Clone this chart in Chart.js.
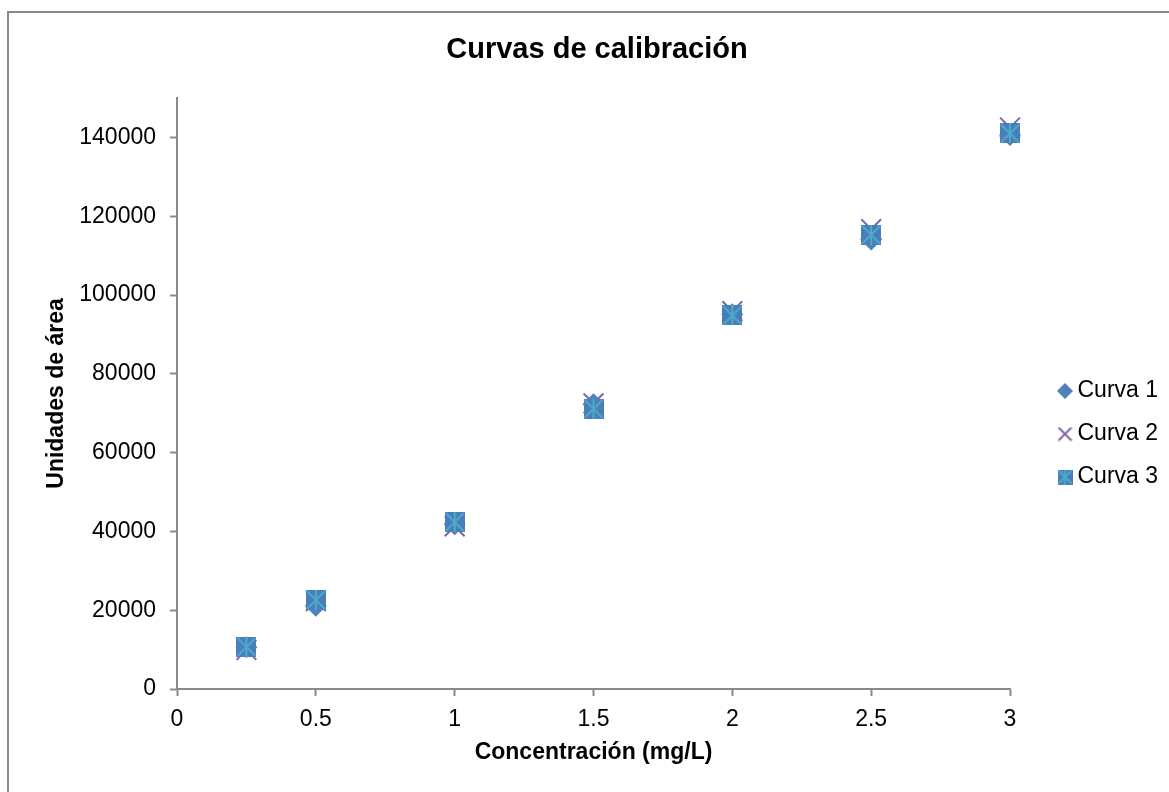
<!DOCTYPE html>
<html>
<head>
<meta charset="utf-8">
<script src="https://cdn.jsdelivr.net/npm/chart.js@4/dist/chart.umd.min.js"></script>
<style>
  html, body { margin: 0; padding: 0; background: #ffffff; overflow: hidden; }
  #wrap { position: relative; width: 1169px; height: 792px; }
  #frame { position: absolute; left: 7px; top: 11px; width: 1300px; height: 900px;
           border-left: 2px solid #8a8a8a; border-top: 2px solid #8a8a8a; pointer-events: none; }
  canvas { position: absolute; left: 0; top: 0; }
</style>
</head>
<body>
<div id="wrap">
  <canvas id="c" width="1169" height="792"></canvas>
  <div id="frame"></div>
</div>
<script>
// ---- data ----
const concentraciones = [0.25, 0.5, 1, 1.5, 2, 2.5, 3];
const curva1 = [10600, 21100, 41800, 72300, 95100, 114100, 140600];
const curva2 = [9900, 22300, 41300, 72500, 95900, 116700, 142500];
const curva3 = [10700, 22600, 42400, 71100, 94800, 115300, 141000];
const seriesNames = ['Curva 1', 'Curva 2', 'Curva 3'];
const xTickValues = [0, 0.5, 1, 1.5, 2, 2.5, 3];
const yTickValues = [0, 20000, 40000, 60000, 80000, 100000, 120000, 140000];
const chartTitle = 'Curvas de calibración';
const xTitle = 'Concentración (mg/L)';
const yTitle = 'Unidades de área';

const FONT = "'Liberation Sans', Arial, Helvetica, sans-serif";
const AXIS_GRAY = '#8a8a8a';
const C1 = '#4F81BD', C2 = '#8064A2', C3F = '#4A7EBB', C3L = '#4BACC6';

function starSquare(size) {
  const c = document.createElement('canvas');
  c.width = size; c.height = size;
  const g = c.getContext('2d');
  g.fillStyle = C3F; g.fillRect(0, 0, size, size);
  g.strokeStyle = C3L; g.lineWidth = 2;
  g.beginPath();
  g.moveTo(1, 1); g.lineTo(size - 1, size - 1);
  g.moveTo(size - 1, 1); g.lineTo(1, size - 1);
  g.moveTo(size / 2, 0); g.lineTo(size / 2, size);
  g.stroke();
  return c;
}
function diamondIcon(size) {
  const c = document.createElement('canvas');
  c.width = size; c.height = size;
  const g = c.getContext('2d'); const h = size / 2;
  g.fillStyle = C1; g.beginPath();
  g.moveTo(h, 0); g.lineTo(size, h); g.lineTo(h, size); g.lineTo(0, h); g.closePath(); g.fill();
  return c;
}
function xIcon(size) {
  const c = document.createElement('canvas');
  c.width = size; c.height = size;
  const g = c.getContext('2d');
  g.strokeStyle = C2; g.lineWidth = 2; g.beginPath();
  g.moveTo(1, 1); g.lineTo(size - 1, size - 1);
  g.moveTo(size - 1, 1); g.lineTo(1, size - 1); g.stroke();
  return c;
}
const legendIcons = [diamondIcon(16), xIcon(15), starSquare(15)];

function pts(vals) { return concentraciones.map((x, i) => ({ x: x, y: vals[i] })); }

// places the legend a little right of the plot and centres the title like the original
const placeBoxes = {
  id: 'placeBoxes',
  afterLayout(chart) {
    const lg = chart.legend;
    if (lg) {
      lg.left = chart.chartArea.right + 34;
      lg.right = chart.width;
      lg.width = lg.right - lg.left;
    }
    const tb = chart.titleBlock;
    if (tb) {
      tb.left = 25;
      tb.right = chart.width;
      tb.width = tb.right - tb.left;
    }
  }
};

Chart.defaults.font.family = FONT;
Chart.defaults.color = '#000000';

new Chart(document.getElementById('c'), {
  type: 'scatter',
  data: {
    datasets: [
      { label: seriesNames[0], data: pts(curva1), pointStyle: 'rectRot', pointRadius: 11,
        backgroundColor: C1, borderColor: C1, borderWidth: 0, order: 3, clip: false },
      { label: seriesNames[1], data: pts(curva2), pointStyle: 'crossRot', pointRadius: 14,
        backgroundColor: C2, borderColor: C2, borderWidth: 2, order: 2, clip: false },
      { label: seriesNames[2], data: pts(curva3), pointStyle: starSquare(20), pointRadius: 10,
        backgroundColor: C3F, borderColor: C3L, borderWidth: 0, order: 1, clip: false }
    ]
  },
  options: {
    responsive: false,
    animation: false,
    devicePixelRatio: 1,
    layout: { padding: { left: 0, top: 0, bottom: 0, right: 119 } },
    plugins: {
      tooltip: { enabled: false },
      title: {
        display: true, text: chartTitle, color: '#000',
        font: { size: 29, weight: 'bold', family: FONT },
        padding: { top: 33, bottom: 30.2 }
      },
      legend: {
        display: true, position: 'right', align: 'center', maxWidth: 40,
        title: { display: true, text: ' ', font: { size: 10 }, padding: { top: 64, bottom: 0 } },
        labels: {
          usePointStyle: true, boxWidth: 2, boxHeight: 11, padding: 20,
          color: '#000', font: { size: 23, family: FONT },
          generateLabels(chart) {
            const items = Chart.defaults.plugins.legend.labels.generateLabels(chart);
            items.forEach(it => { it.pointStyle = legendIcons[it.datasetIndex]; });
            return items.sort((a, b) => a.datasetIndex - b.datasetIndex);
          }
        }
      }
    },
    scales: {
      x: {
        type: 'linear', position: 'bottom', min: 0, max: 3,
        afterBuildTicks(scale) { scale.ticks = xTickValues.map(v => ({ value: v })); },
        afterFit(scale) { scale.height = 103; },
        grid: { display: true, drawOnChartArea: false, drawTicks: true, tickLength: 7,
                tickColor: AXIS_GRAY, tickWidth: 2 },
        border: { display: true, color: AXIS_GRAY, width: 2 },
        ticks: { color: '#000', font: { size: 23 }, padding: 10, maxRotation: 0,
                 callback: v => String(v) },
        title: { display: true, text: xTitle, color: '#000',
                 font: { size: 23, weight: 'bold' }, padding: { top: 0, bottom: 25.2 } }
      },
      y: {
        type: 'linear', position: 'left', min: 0, max: 150000,
        afterBuildTicks(scale) { scale.ticks = yTickValues.map(v => ({ value: v })); },
        afterFit(scale) { scale.width = 177; },
        grid: { display: true, drawOnChartArea: false, drawTicks: true, tickLength: 7,
                tickColor: AXIS_GRAY, tickWidth: 2 },
        border: { display: true, color: AXIS_GRAY, width: 2 },
        ticks: { color: '#000', font: { size: 23 }, padding: 14, callback: v => String(v) },
        title: { display: true, text: yTitle, color: '#000',
                 font: { size: 23, weight: 'bold' }, padding: { top: 43.2, bottom: 0 } }
      }
    }
  },
  plugins: [placeBoxes]
});
</script>
</body>
</html>
